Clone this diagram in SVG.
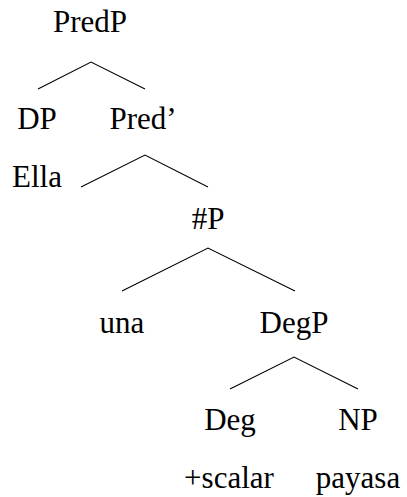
<svg xmlns="http://www.w3.org/2000/svg" width="407" height="497" viewBox="0 0 407 497">
<rect width="407" height="497" fill="#fff"/>
<g id="connectors" stroke="#000" stroke-width="1.1" fill="none">
<polyline points="38,89 91,62 145,89"/>
<polyline points="81,187 145,155 208,187"/>
<polyline points="122,291 208,248 295,291"/>
<polyline points="230,389 294,357 358,389"/>
</g>
<g id="PredP"><text x="90" y="32" font-family="DejaVu Serif" font-size="26" text-anchor="middle" style="font-family:'Liberation Serif','DejaVu Serif',serif;font-size:31px">PredP</text></g>
<g id="DP"><text x="37" y="129" font-family="DejaVu Serif" font-size="26" text-anchor="middle" style="font-family:'Liberation Serif','DejaVu Serif',serif;font-size:31px">DP</text></g>
<g id="Pred1"><text x="143" y="129" font-family="DejaVu Serif" font-size="26" text-anchor="middle" style="font-family:'Liberation Serif','DejaVu Serif',serif;font-size:31px">Pred&#8217;</text></g>
<g id="Ella"><text x="37" y="187" font-family="DejaVu Serif" font-size="26" text-anchor="middle" style="font-family:'Liberation Serif','DejaVu Serif',serif;font-size:31px">Ella</text></g>
<g id="NumP"><text x="208" y="229" font-family="DejaVu Serif" font-size="26" text-anchor="middle" style="font-family:'Liberation Serif','DejaVu Serif',serif;font-size:31px">#P</text></g>
<g id="una"><text x="122" y="333" font-family="DejaVu Serif" font-size="26" text-anchor="middle" style="font-family:'Liberation Serif','DejaVu Serif',serif;font-size:31px">una</text></g>
<g id="DegP"><text x="294" y="333" font-family="DejaVu Serif" font-size="26" text-anchor="middle" style="font-family:'Liberation Serif','DejaVu Serif',serif;font-size:31px">DegP</text></g>
<g id="Deg"><text x="230" y="430" font-family="DejaVu Serif" font-size="26" text-anchor="middle" style="font-family:'Liberation Serif','DejaVu Serif',serif;font-size:31px">Deg</text></g>
<g id="NP"><text x="358" y="430" font-family="DejaVu Serif" font-size="26" text-anchor="middle" style="font-family:'Liberation Serif','DejaVu Serif',serif;font-size:31px">NP</text></g>
<g id="scalar"><text x="229" y="488" font-family="DejaVu Serif" font-size="26" text-anchor="middle" style="font-family:'Liberation Serif','DejaVu Serif',serif;font-size:31px">+scalar</text></g>
<g id="payasa"><text x="358" y="488" font-family="DejaVu Serif" font-size="26" text-anchor="middle" style="font-family:'Liberation Serif','DejaVu Serif',serif;font-size:31px">payasa</text></g>
</svg>
